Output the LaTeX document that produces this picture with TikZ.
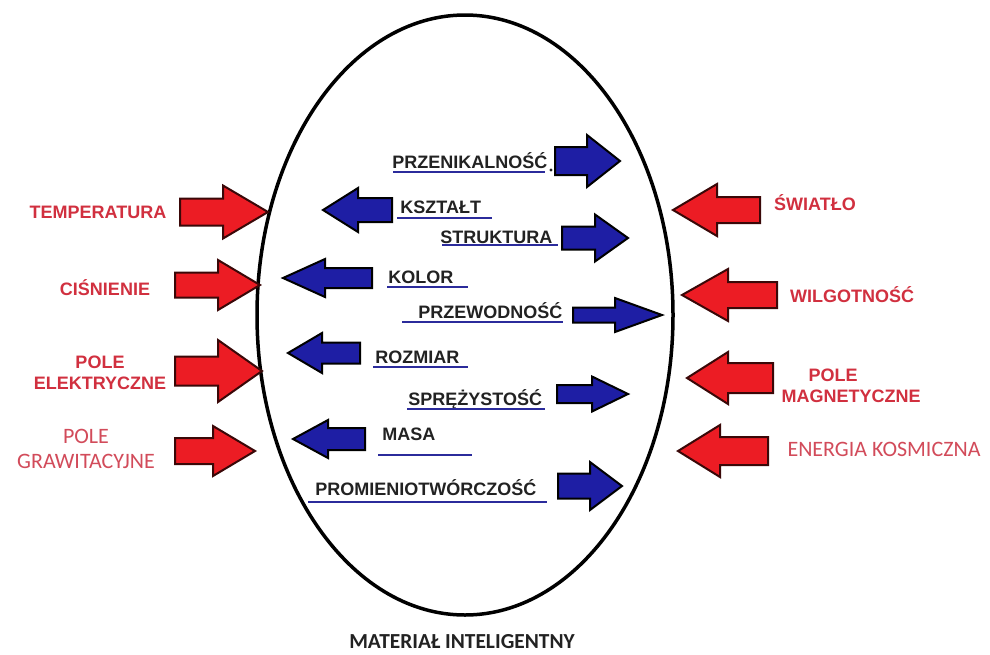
\documentclass[tikz,border=0pt]{standalone}
\usepackage{fontspec}
\setmainfont{Liberation Sans}
\newfontfamily\calib{Carlito}
\definecolor{redfill}{HTML}{EC1C24}
\definecolor{redline}{HTML}{3A0808}
\definecolor{bluefill}{HTML}{1E1EA4}
\definecolor{redtxt}{HTML}{D1303F}
\definecolor{pinktxt}{HTML}{D24B5A}
\definecolor{bluetxt}{HTML}{222222}
\definecolor{uline}{HTML}{2B2B9B}
\newcommand\fatarrow[7]{%
  \draw[#1] (#2,#5-#6) -- (#3,#5-#6) -- (#3,#5-#7) -- (#4,#5) -- (#3,#5+#7) -- (#3,#5+#6) -- (#2,#5+#6) -- cycle;}
\tikzset{
  redarrow/.style={fill=redfill, draw=redline, line width=1pt, line join=miter},
  bluearrow/.style={fill=bluefill, draw=black, line width=1pt, line join=miter},
  redlabel/.style={inner sep=0pt, anchor=base, text=redtxt, font=\fontsize{9}{10}\selectfont\bfseries, align=center},
  pinklabel/.style={inner sep=0pt, anchor=base, text=pinktxt, font=\calib\fontsize{11}{11}\selectfont, align=center},
  bluelabel/.style={inner sep=0pt, anchor=base west, text=bluetxt, font=\fontsize{9}{10}\selectfont\bfseries},
  ul/.style={draw=uline, line width=1pt}
}
\begin{document}
\begin{tikzpicture}[x=0.5pt,y=-0.5pt]
\useasboundingbox[fill=white] (0,0) rectangle (990,654);
% ellipse
\draw[line width=1.75pt] (465,315) ellipse [x radius=104pt, y radius=150pt];
% left red arrows
\fatarrow{redarrow}{180}{223}{268}{212}{13.5}{26.5}
\fatarrow{redarrow}{175}{218}{260}{285}{12.5}{25}
\fatarrow{redarrow}{175}{218}{262}{371}{14.5}{31}
\fatarrow{redarrow}{175}{213}{255}{451}{13}{25}
% right red arrows
\fatarrow{redarrow}{760}{717}{673}{210}{13}{26}
\fatarrow{redarrow}{777}{728}{682}{295}{13}{26}
\fatarrow{redarrow}{773}{728}{687}{378}{15}{26}
\fatarrow{redarrow}{768}{720}{678}{451}{14}{26}
% blue arrows
\fatarrow{bluearrow}{555}{587}{620}{161}{14}{26}
\fatarrow{bluearrow}{392}{358}{323}{210}{12}{22}
\fatarrow{bluearrow}{562}{595}{628}{238}{11.5}{23.5}
\fatarrow{bluearrow}{372}{325}{283}{278}{10}{19}
\fatarrow{bluearrow}{573}{615}{662}{315}{7.5}{17}
\fatarrow{bluearrow}{360}{322}{288}{353}{10.5}{20}
\fatarrow{bluearrow}{557}{592}{628}{394}{9}{17.5}
\fatarrow{bluearrow}{365}{328}{293}{439}{11}{19}
\fatarrow{bluearrow}{558}{590}{622}{486}{12.5}{24}
% left labels
\node[redlabel] (temp) at (98,218) {TEMPERATURA};
\node[redlabel] (cisn) at (105,295) {CIŚNIENIE};
\node[redlabel] (elA) at (100,368) {POLE};
\node[redlabel] (elB) at (100,389) {ELEKTRYCZNE};
\node[pinklabel] (grA) at (86,443) {POLE};
\node[pinklabel] (grB) at (86,468) {GRAWITACYJNE};
% right labels
\node[redlabel] (swia) at (815,210) {ŚWIATŁO};
\node[redlabel] (wilg) at (852,302) {WILGOTNOŚĆ};
\node[redlabel] (magA) at (833,381) {POLE};
\node[redlabel] (magB) at (851,402) {MAGNETYCZNE};
\node[pinklabel] (ener) at (884,456) {ENERGIA KOSMICZNA};
% blue labels
\node[bluelabel] (prz) at (392,168) {PRZENIKALNOŚĆ};
\fill[bluetxt] (551,170) circle [radius=0.8pt];
\node[bluelabel] (ksz) at (400,213) {KSZTAŁT};
\node[bluelabel] (str) at (440,243) {STRUKTURA};
\node[bluelabel] (kol) at (388,283) {KOLOR};
\node[bluelabel] (prw) at (418,318) {PRZEWODNOŚĆ};
\node[bluelabel] (roz) at (375,363) {ROZMIAR};
\node[bluelabel] (spr) at (408,405) {SPRĘŻYSTOŚĆ};
\node[bluelabel] (mas) at (382,440) {MASA};
\node[bluelabel] (pro) at (315,495) {PROMIENIOTWÓRCZOŚĆ};
% underlines
\draw[ul] (393,172) -- (545,172);
\draw[ul] (397,218) -- (492,218);
\draw[ul] (442,245) -- (558,245);
\draw[ul] (387,287) -- (468,287);
\draw[ul] (402,322) -- (563,322);
\draw[ul] (373,367) -- (468,367);
\draw[ul] (407,409) -- (545,409);
\draw[ul] (378,455) -- (472,455);
\draw[ul] (308,502) -- (547,502);
% title
\node[inner sep=0pt, anchor=base, text=bluetxt, font=\calib\fontsize{10.7}{12}\selectfont\bfseries] (title) at (462,648) {MATERIAŁ INTELIGENTNY};
\end{tikzpicture}
\end{document}
